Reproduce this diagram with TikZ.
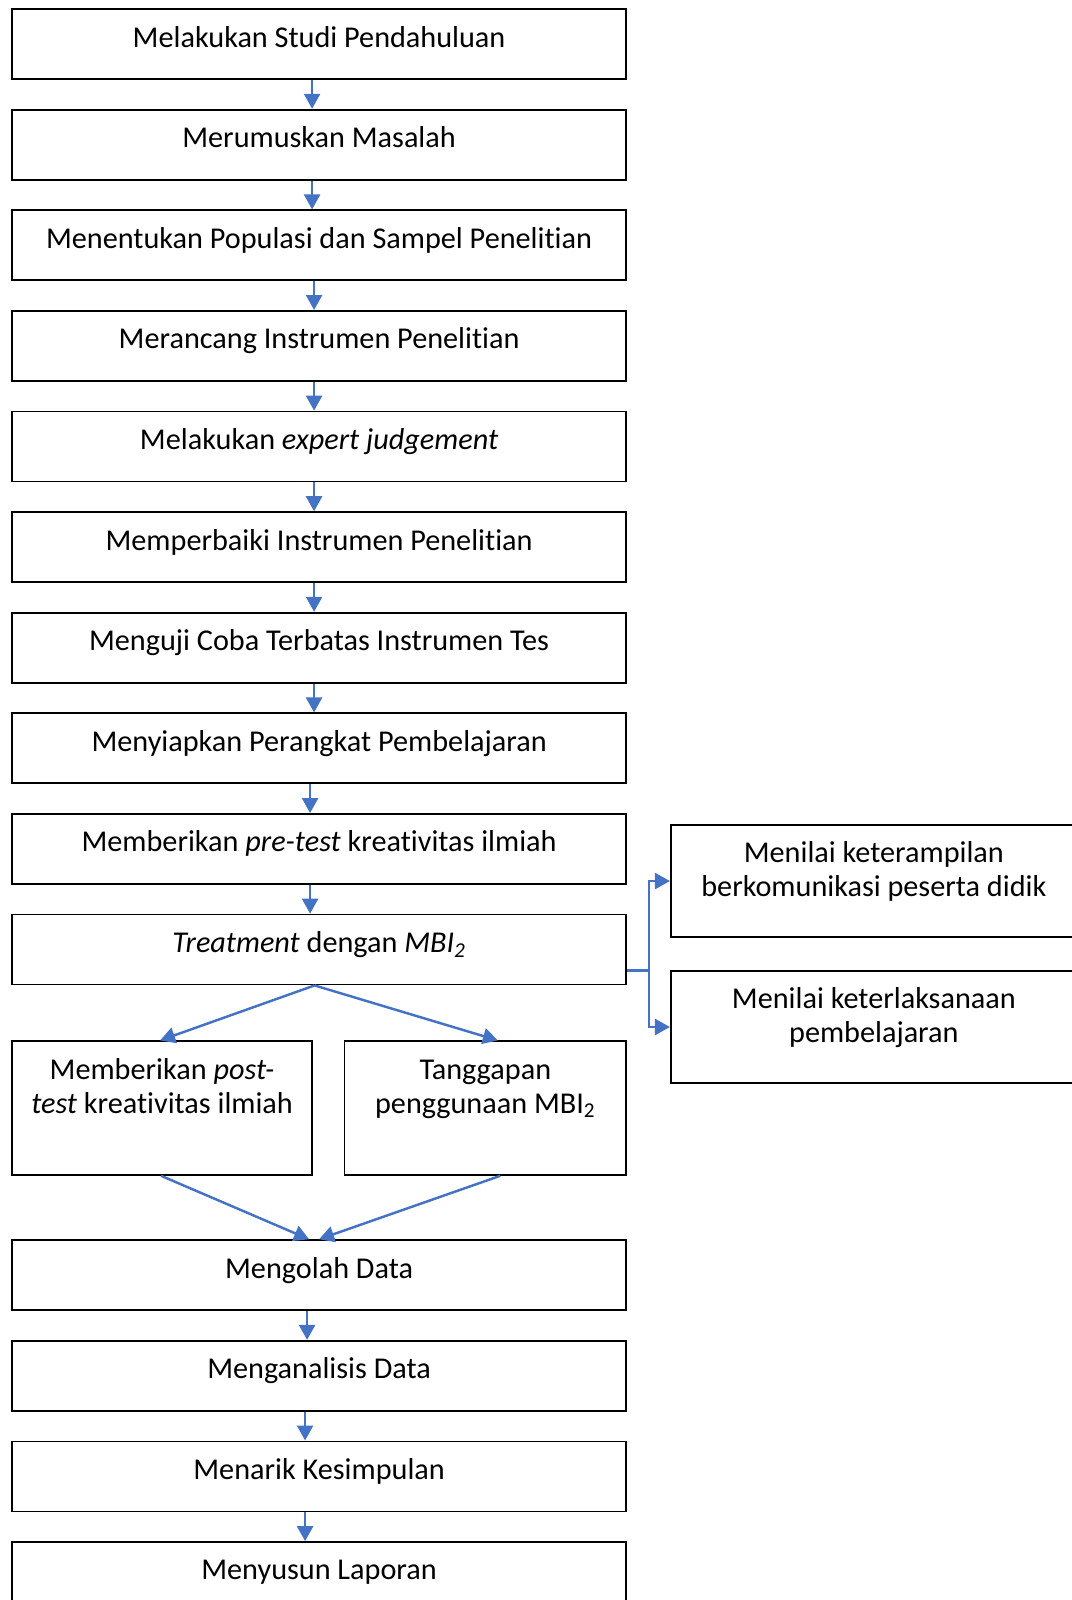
\documentclass[tikz,border=0pt]{standalone}
\usepackage{fontspec}
\setmainfont{Carlito}[Ligatures={NoCommon}]
\usetikzlibrary{arrows.meta}
\usetikzlibrary{positioning}
\definecolor{flowblue}{HTML}{4472C4}
\tikzset{
    stepbox/.style={
           rectangle,
           draw=black, line width=1pt,
           minimum width=12.28cm,
           inner xsep=2pt, inner ysep=0pt,
           text height=0.76cm, text depth=0.64cm,
           font=\fontsize{17.2}{19.2}\selectfont,
           text centered,
           },
    flow/.style={
           draw=flowblue, line width=1.4pt,
           -{Triangle[length=0.3cm,width=0.32cm]},
           },
}

\begin{document}
\begin{tikzpicture}[node distance=0.577cm]

 \useasboundingbox (0,0) rectangle (21.44,-32);

 % main column, one box below the other
 \node[stepbox, anchor=north west] (studi) at (0.224,-0.164) {Melakukan Studi Pendahuluan};
 \node[stepbox, below=of studi] (masalah) {Merumuskan Masalah};
 \node[stepbox, below=of masalah] (sampel) {Menentukan Populasi dan Sampel Penelitian};
 \node[stepbox, below=of sampel] (rancang) {Merancang Instrumen Penelitian};
 \node[stepbox, below=of rancang] (expert) {Melakukan \textit{expert judgement}};
 \node[stepbox, below=of expert] (perbaiki) {Memperbaiki Instrumen Penelitian};
 \node[stepbox, below=of perbaiki] (ujicoba) {Menguji Coba Terbatas Instrumen Tes};
 \node[stepbox, below=of ujicoba] (perangkat) {Menyiapkan Perangkat Pembelajaran};
 \node[stepbox, below=of perangkat] (pretest) {Memberikan \textit{pre-test} kreativitas ilmiah};
 \node[stepbox, below=of pretest] (treat) {\textit{Treatment} dengan \textit{MBI\textsubscript{2}}};

 % the two boxes under the treatment
 \node[stepbox,
  minimum width=6.0cm,
  text depth=1.912cm,
  anchor=north west] (posttest) at ([yshift=-1.10cm]treat.south west)
 {%
 \begin{tabular}[t]{@{}c@{}}
  Memberikan \textit{post-}\\
  \textit{test} kreativitas ilmiah
 \end{tabular}
 };
 \node[stepbox,
  minimum width=5.63cm,
  text depth=1.912cm,
  anchor=north east] (tanggapan) at ([yshift=-1.10cm]treat.south east)
 {%
 \begin{tabular}[t]{@{}c@{}}
  Tanggapan\\
  penggunaan MBI\textsubscript{2}
 \end{tabular}
 };

 % lower column
 \node[stepbox, anchor=north west] (olah) at ([yshift=-1.27cm]posttest.south west) {Mengolah Data};
 \node[stepbox, below=of olah] (analisis) {Menganalisis Data};
 \node[stepbox, below=of analisis] (simpul) {Menarik Kesimpulan};
 \node[stepbox, below=of simpul] (laporan) {Menyusun Laporan};

 % boxes on the right of the treatment
 \node[stepbox,
  minimum width=8.12cm,
  text depth=1.484cm,
  anchor=north west] (komunikasi) at ([xshift=0.86cm,yshift=-0.22cm]pretest.north east)
 {%
 \begin{tabular}[t]{@{}c@{}}
  Menilai keterampilan\\
  berkomunikasi peserta didik
 \end{tabular}
 };
 \node[stepbox,
  minimum width=8.12cm,
  text depth=1.484cm,
  below=0.64cm of komunikasi] (laksana)
 {%
 \begin{tabular}[t]{@{}c@{}}
  Menilai keterlaksanaan\\
  pembelajaran
 \end{tabular}
 };

 % straight arrows down the column
 \foreach \a/\b/\s in {studi/masalah/-0.14, masalah/sampel/-0.14, sampel/rancang/-0.10,
                       rancang/expert/-0.10, expert/perbaiki/-0.10, perbaiki/ujicoba/-0.10,
                       ujicoba/perangkat/-0.10, perangkat/pretest/-0.18, pretest/treat/-0.18,
                       olah/analisis/-0.24, analisis/simpul/-0.28, simpul/laporan/-0.28}
  \draw[flow] ([xshift=\s cm]\a.south) -- ([xshift=\s cm]\b.north);

 % split and join
 \draw[flow] ([xshift=-0.09cm]treat.south) -- ([xshift=-0.04cm]posttest.north);
 \draw[flow] ([xshift=-0.09cm]treat.south) -- ([xshift=0.25cm]tanggapan.north);
 \draw[flow] ([xshift=-0.02cm]posttest.south) -- ([xshift=-0.2cm]olah.north);
 \draw[flow] ([xshift=0.3cm]tanggapan.south) -- ([xshift=0cm]olah.north);

 % fork to the right
 \coordinate (fork) at ([xshift=0.44cm,yshift=-0.42cm]treat.east);
 \draw[draw=flowblue, line width=1.4pt] ([yshift=-0.42cm]treat.east) -- (fork);
 \draw[flow] (fork) |- (komunikasi.west);
 \draw[flow] (fork) |- (laksana.west);

\end{tikzpicture}
\end{document}
